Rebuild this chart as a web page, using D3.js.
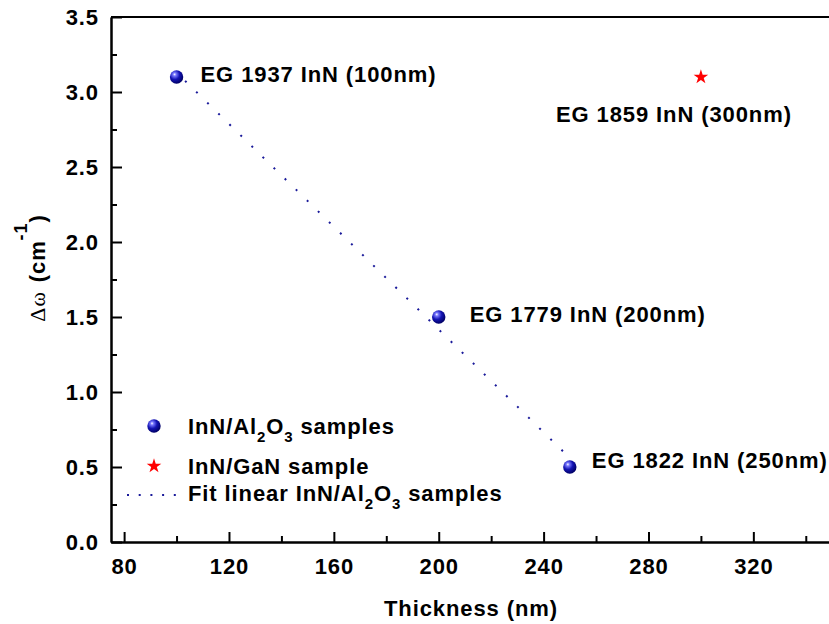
<!DOCTYPE html>
<html><head><meta charset="utf-8">
<script src="https://cdn.jsdelivr.net/npm/d3@7/dist/d3.min.js"></script>
<style>
html,body{margin:0;padding:0;background:#fff;}
svg{display:block;}
</style></head>
<body>
<svg id="c" width="829" height="624"></svg>
<script>
// ---- data ----
const alThickness = [100, 200, 250];
const alDelta = [3.1, 1.5, 0.5];
const alLabels = ["EG 1937 InN (100nm)", "EG 1779 InN (200nm)", "EG 1822 InN (250nm)"];
const ganThickness = [300];
const ganDelta = [3.1];
const ganLabels = ["EG 1859 InN (300nm)"];
const fitThickness = [100, 250];
const fitDelta = [3.13, 0.56];
const xTicks = [80, 120, 160, 200, 240, 280, 320];
const xMinorTicks = [100, 140, 180, 220, 260, 300, 340];
const yTicks = [0, 0.5, 1.0, 1.5, 2.0, 2.5, 3.0, 3.5];
const yMinorTicks = [0.25, 0.75, 1.25, 1.75, 2.25, 2.75, 3.25];

// ---- layout ----
const FONT = "'Liberation Sans', Arial, sans-serif";
const LS = "0.9px";
const svg = d3.select("#c");
const x = d3.scaleLinear().domain([75, 350]).range([111, 832]);
const y = d3.scaleLinear().domain([0, 3.5]).range([542, 17]);

const defs = svg.append("defs");
const g = defs.append("radialGradient").attr("id", "ball").attr("cx", "38%").attr("cy", "35%").attr("r", "65%").attr("fx", "35%").attr("fy", "30%");
g.append("stop").attr("offset", "0%").attr("stop-color", "#ffffff");
g.append("stop").attr("offset", "18%").attr("stop-color", "#7a7aff");
g.append("stop").attr("offset", "55%").attr("stop-color", "#1414b4");
g.append("stop").attr("offset", "100%").attr("stop-color", "#000066");

function styleAxis(sel) {
  sel.select(".domain").attr("stroke", "#000").attr("stroke-width", 2);
  sel.selectAll(".tick line").attr("stroke", "#000").attr("stroke-width", 2);
  sel.selectAll("text").attr("font-family", FONT).attr("font-size", 22).attr("font-weight", "bold").attr("letter-spacing", LS).attr("fill", "#000");
}

// bottom axis
const xAxis = svg.append("g").attr("transform", `translate(0,${y(0)})`)
  .call(d3.axisBottom(x).tickValues(xTicks).tickSizeInner(-10).tickSizeOuter(0).tickPadding(16).tickFormat(d3.format("d")));
styleAxis(xAxis);
const xMinor = svg.append("g").attr("transform", `translate(0,${y(0)})`)
  .call(d3.axisBottom(x).tickValues(xMinorTicks).tickSizeInner(-6).tickSizeOuter(0).tickFormat(""));
styleAxis(xMinor);

// left axis
const yAxis = svg.append("g").attr("transform", `translate(${x(75)},0)`)
  .call(d3.axisLeft(y).tickValues(yTicks).tickSizeInner(-11).tickSizeOuter(0).tickPadding(12).tickFormat(d3.format(".1f")));
styleAxis(yAxis);
const yMinor = svg.append("g").attr("transform", `translate(${x(75)},0)`)
  .call(d3.axisLeft(y).tickValues(yMinorTicks).tickSizeInner(-6).tickSizeOuter(0).tickFormat(""));
styleAxis(yMinor);

// top & right border
svg.append("line").attr("x1", x(75)).attr("x2", x(350)).attr("y1", y(3.5)).attr("y2", y(3.5)).attr("stroke", "#000").attr("stroke-width", 2);
svg.append("line").attr("x1", x(350)).attr("x2", x(350)).attr("y1", y(3.5)).attr("y2", y(0)).attr("stroke", "#000").attr("stroke-width", 2);

// axis titles
svg.append("text").attr("x", 471).attr("y", 616).attr("text-anchor", "middle")
  .attr("font-family", FONT).attr("font-size", 22).attr("font-weight", "bold").attr("letter-spacing", LS)
  .text("Thickness (nm)");

const yt = svg.append("text").attr("transform", "translate(45,268) rotate(-90)").attr("text-anchor", "middle")
  .attr("font-family", FONT).attr("font-size", 22).attr("font-weight", "bold").attr("letter-spacing", LS);
yt.append("tspan").attr("font-family", "'Liberation Serif', 'Times New Roman', serif").attr("font-weight", "normal").attr("font-size", 22).text("Δω");
yt.append("tspan").attr("dx", 9).text("(cm");
yt.append("tspan").attr("dy", -18).attr("font-size", 18).text("-1");
yt.append("tspan").attr("dy", 18).text(")");

// fit line
const line = d3.line().x((d, i) => x(fitThickness[i])).y((d, i) => y(fitDelta[i]));
svg.append("path").datum(fitDelta).attr("d", line).attr("fill", "none")
  .attr("stroke", "#1a1a9a").attr("stroke-width", 2).attr("stroke-dasharray", "2,13.5").attr("stroke-dashoffset", -12);

// balls
svg.selectAll("circle.al").data(alDelta).enter().append("circle").attr("class", "al")
  .attr("cx", (d, i) => x(alThickness[i])).attr("cy", d => y(d)).attr("r", 6.7).attr("fill", "url(#ball)");

// star
const star = d3.symbol().type(d3.symbolStar).size(66);
svg.selectAll("path.gan").data(ganDelta).enter().append("path").attr("class", "gan")
  .attr("d", star).attr("fill", "#ff0000")
  .attr("transform", (d, i) => `translate(${x(ganThickness[i])},${y(d)})`);

// point labels
const alLabelOffsets = [[24, 4.5], [31, 4.5], [22, 0.5]];
svg.selectAll("text.al").data(alLabels).enter().append("text").attr("class", "al")
  .attr("x", (d, i) => x(alThickness[i]) + alLabelOffsets[i][0])
  .attr("y", (d, i) => y(alDelta[i]) + alLabelOffsets[i][1])
  .attr("font-family", FONT).attr("font-size", 22).attr("font-weight", "bold").attr("letter-spacing", LS)
  .text(d => d);
const ganLabelOffsets = [[-145, 45]];
svg.selectAll("text.gan").data(ganLabels).enter().append("text").attr("class", "gan")
  .attr("x", (d, i) => x(ganThickness[i]) + ganLabelOffsets[i][0])
  .attr("y", (d, i) => y(ganDelta[i]) + ganLabelOffsets[i][1])
  .attr("font-family", FONT).attr("font-size", 22).attr("font-weight", "bold").attr("letter-spacing", LS)
  .text(d => d);

// legend
const lg = svg.append("g");
lg.append("circle").attr("cx", 154).attr("cy", 426).attr("r", 6.7).attr("fill", "url(#ball)");
lg.append("path").attr("d", star).attr("fill", "#ff0000").attr("transform", "translate(154,466)");
lg.append("line").attr("x1", 127).attr("x2", 177).attr("y1", 495).attr("y2", 495)
  .attr("stroke", "#1a1a9a").attr("stroke-width", 2).attr("stroke-dasharray", "2,9.7");

function legendText(yb, parts) {
  const t = lg.append("text").attr("x", 188).attr("y", yb)
    .attr("font-family", FONT).attr("font-size", 22).attr("font-weight", "bold").attr("letter-spacing", LS);
  parts.forEach(p => {
    const s = t.append("tspan").text(p[0]);
    if (p[1] === "sub") s.attr("font-size", 15).attr("dy", 8);
    if (p[1] === "back") s.attr("dy", -8);
  });
}
legendText(434, [["InN/Al"], ["2", "sub"], ["O", "back"], ["3", "sub"], [" samples", "back"]]);
legendText(474, [["InN/GaN sample"]]);
legendText(501, [["Fit linear InN/Al"], ["2", "sub"], ["O", "back"], ["3", "sub"], [" samples", "back"]]);
</script>
</body></html>
